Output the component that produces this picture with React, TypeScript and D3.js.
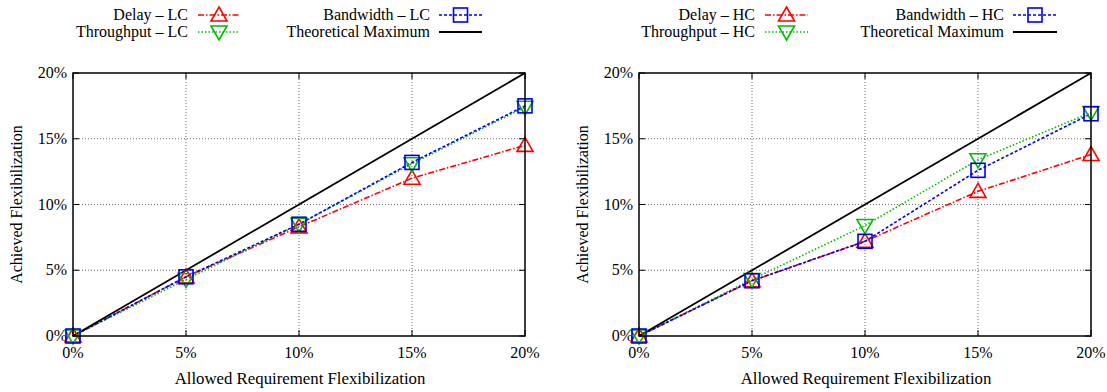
import React from "react";
import * as d3 from "d3";

const allowed = [0, 5, 10, 15, 20];
const yTicks = [0, 5, 10, 15, 20];

const delayLC = [0, 4.5, 8.3, 12.0, 14.5];
const throughputLC = [0, 4.3, 8.5, 13.1, 17.4];
const bandwidthLC = [0, 4.5, 8.5, 13.2, 17.5];
const theoreticalMax = [0, 5, 10, 15, 20];

const delayHC = [0, 4.2, 7.2, 11.0, 13.8];
const throughputHC = [0, 4.3, 8.4, 13.4, 17.0];
const bandwidthHC = [0, 4.2, 7.2, 12.6, 16.9];

const textStyle = { fontFamily: '"Liberation Serif", serif', fontSize: "16px" };
const xLabelStyle = { fontFamily: '"Liberation Serif", serif', fontSize: "16.8px" };

type Series = { name: string; values: number[]; color: string; dash: string; marker: "up" | "down" | "square" | "none" };

function Marker({ type, x, y, color }: { type: string; x: number; y: number; color: string }) {
  const s = 7;
  if (type === "up") {
    return <path d={`M${x},${y - s - 1}L${x + s + 1},${y + s - 1}L${x - s - 1},${y + s - 1}Z`} fill="none" stroke={color} strokeWidth={1.6} />;
  }
  if (type === "down") {
    return <path d={`M${x},${y + s + 1}L${x + s + 1},${y - s + 1}L${x - s - 1},${y - s + 1}Z`} fill="none" stroke={color} strokeWidth={1.6} />;
  }
  if (type === "square") {
    return <rect x={x - s} y={y - s} width={2 * s} height={2 * s} fill="none" stroke={color} strokeWidth={1.6} />;
  }
  return null;
}

function Panel({ ox, series, legendCols }: { ox: number; series: Series[]; legendCols: { textEnd: number; lineStart: number; lineEnd: number }[] }) {
  const left = ox;
  const right = ox + 452;
  const top = 73;
  const bottom = 336;
  const x = d3.scaleLinear().domain([0, 20]).range([left, right]);
  const y = d3.scaleLinear().domain([0, 20]).range([bottom, top]);
  const line = d3.line<number>().x((_, i) => x(allowed[i])).y((d) => y(d));

  const legendOrder = [series[0], series[2], series[1], series[3]];
  const legendPos = [
    { col: 0, row: 0 },
    { col: 1, row: 0 },
    { col: 0, row: 1 },
    { col: 1, row: 1 },
  ];

  return (
    <g>
      {yTicks.slice(1, -1).map((t) => (
        <line key={"gy" + t} x1={left} x2={right} y1={y(t)} y2={y(t)} stroke="#444" strokeWidth={0.8} strokeDasharray="1,2" />
      ))}
      {allowed.slice(1, -1).map((t) => (
        <line key={"gx" + t} x1={x(t)} x2={x(t)} y1={top} y2={bottom} stroke="#444" strokeWidth={0.8} strokeDasharray="1,2" />
      ))}
      {yTicks.map((t) => (
        <g key={"ty" + t}>
          <line x1={left} x2={left + 6} y1={y(t)} y2={y(t)} stroke="#000" />
          <line x1={right} x2={right - 6} y1={y(t)} y2={y(t)} stroke="#000" />
          <text x={left - 6} y={y(t) + 5} textAnchor="end" style={textStyle}>{t}%</text>
        </g>
      ))}
      {allowed.map((t) => (
        <g key={"tx" + t}>
          <line x1={x(t)} x2={x(t)} y1={bottom} y2={bottom - 6} stroke="#000" />
          <line x1={x(t)} x2={x(t)} y1={top} y2={top + 6} stroke="#000" />
          <text x={x(t)} y={bottom + 22} textAnchor="middle" style={textStyle}>{t}%</text>
        </g>
      ))}
      {series.map((s) => (
        <path key={s.name} d={line(s.values) || ""} fill="none" stroke={s.color} strokeWidth={s.marker === "none" ? 1.8 : 1.6} strokeDasharray={s.dash} />
      ))}
      {series.map((s) =>
        s.values.map((v, i) => <Marker key={s.name + i} type={s.marker} x={x(allowed[i])} y={y(v)} color={s.color} />)
      )}
      <rect x={left} y={top} width={right - left} height={bottom - top} fill="none" stroke="#000" strokeWidth={1.5} />
      <text x={(left + right) / 2 + 1} y={384} textAnchor="middle" style={xLabelStyle}>Allowed Requirement Flexibilization</text>
      <text transform={`translate(${left - 51},${(top + bottom) / 2}) rotate(-90)`} textAnchor="middle" style={textStyle}>Achieved Flexibilization</text>
      {legendOrder.map((s, k) => {
        const p = legendPos[k];
        const c = legendCols[p.col];
        const ly = 15 + p.row * 17;
        const mx = (c.lineStart + c.lineEnd) / 2;
        return (
          <g key={"lg" + k}>
            <text x={c.textEnd} y={ly + 5} textAnchor="end" style={textStyle}>{s.name}</text>
            <line x1={c.lineStart} x2={c.lineEnd} y1={ly} y2={ly} stroke={s.color} strokeWidth={s.marker === "none" ? 1.8 : 1.6} strokeDasharray={s.dash} />
            <Marker type={s.marker} x={mx} y={ly} color={s.color} />
          </g>
        );
      })}
    </g>
  );
}

export default function App() {
  const lc: Series[] = [
    { name: "Delay \u2013 LC", values: delayLC, color: "#ff0000", dash: "6,2,1.5,2", marker: "up" },
    { name: "Throughput \u2013 LC", values: throughputLC, color: "#00bb00", dash: "1.5,2", marker: "down" },
    { name: "Bandwidth \u2013 LC", values: bandwidthLC, color: "#0000ee", dash: "3,2", marker: "square" },
    { name: "Theoretical Maximum", values: theoreticalMax, color: "#000000", dash: "", marker: "none" },
  ];
  const hc: Series[] = [
    { name: "Delay \u2013 HC", values: delayHC, color: "#ff0000", dash: "6,2,1.5,2", marker: "up" },
    { name: "Throughput \u2013 HC", values: throughputHC, color: "#00bb00", dash: "1.5,2", marker: "down" },
    { name: "Bandwidth \u2013 HC", values: bandwidthHC, color: "#0000ee", dash: "3,2", marker: "square" },
    { name: "Theoretical Maximum", values: theoreticalMax, color: "#000000", dash: "", marker: "none" },
  ];
  return (
    <svg width={1107} height={392} style={{ position: "absolute", left: 0, top: 0, background: "#fff" }}>
      <rect width={1107} height={392} fill="#fff" />
      <Panel
        ox={73}
        series={lc}
        legendCols={[
          { textEnd: 188, lineStart: 198, lineEnd: 240 },
          { textEnd: 430, lineStart: 439, lineEnd: 482 },
        ]}
      />
      <Panel
        ox={639}
        series={hc}
        legendCols={[
          { textEnd: 755, lineStart: 765, lineEnd: 808 },
          { textEnd: 1004, lineStart: 1013, lineEnd: 1057 },
        ]}
      />
    </svg>
  );
}
